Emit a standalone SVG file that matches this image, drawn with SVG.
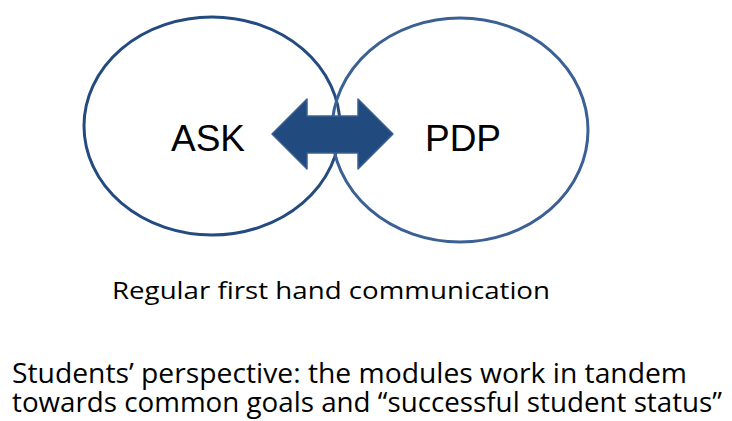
<svg xmlns="http://www.w3.org/2000/svg" width="732" height="421" viewBox="0 0 732 421">
<style>
.ell{fill:none;stroke-width:3}
.lbl{font-family:"Liberation Sans",Arial,sans-serif;font-size:37px;fill:#000;text-anchor:middle}
.cap{font-family:"Open Sans","Noto Sans",sans-serif;fill:#000}
</style>
<rect width="732" height="421" fill="#fff"/>
<g id="ask">
<ellipse class="ell" cx="212" cy="126" rx="128" ry="109" stroke="#244b80"/>
<text class="lbl" x="208" y="151">ASK</text>
</g>
<g id="pdp">
<ellipse class="ell" cx="460" cy="130" rx="128" ry="112" stroke="#3b6194"/>
<text class="lbl" x="463" y="151">PDP</text>
</g>
<g id="connectors">
<polygon points="272,134 307,99 307,116 358,116 358,99 393,134 358,169 358,153 307,153 307,169" fill="#214a7e" stroke="#3a6091" stroke-width="1.5" stroke-linejoin="round"/>
</g>
<g id="captions">
<text class="cap" x="112" y="299" font-size="23" textLength="438" lengthAdjust="spacingAndGlyphs">Regular first hand communication</text>
<text class="cap" x="12" y="383" font-size="27" textLength="675" lengthAdjust="spacingAndGlyphs">Students’ perspective: the modules work in tandem</text>
<text class="cap" x="12" y="412" font-size="27" textLength="710" lengthAdjust="spacingAndGlyphs">towards common goals and “successful student status”</text>
</g>
</svg>
